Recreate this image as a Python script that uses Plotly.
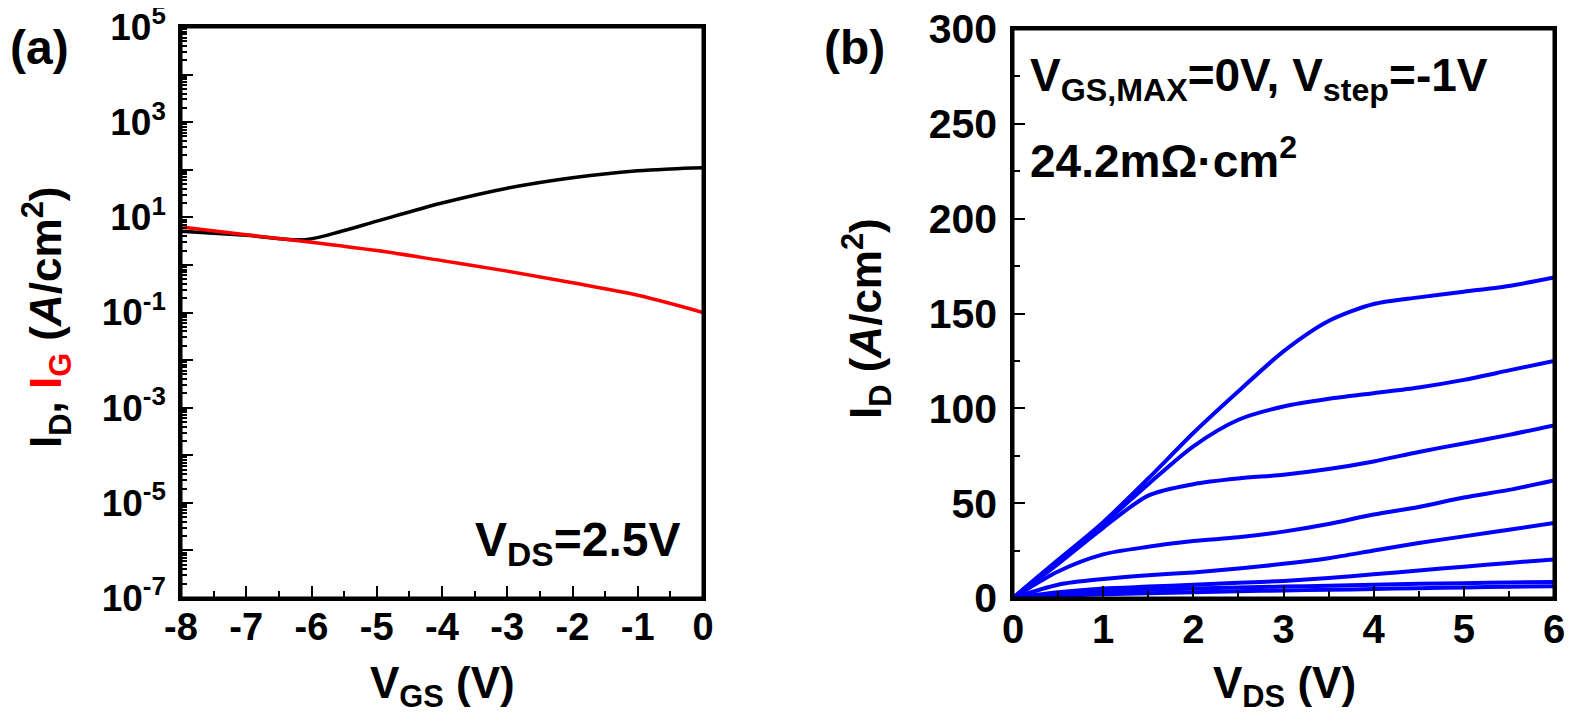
import plotly.graph_objects as go
from plotly.subplots import make_subplots

# panel (a): transfer curve at VDS = 2.5 V
vgs = [-8, -7, -6.1, -5.5, -5, -4, -3, -2, -1, -0.5, 0]
id_a = [5.1, 4.2, 3.4, 5.3, 8.3, 20, 41, 68, 95, 104, 110]
vgs_g = [-8, -7, -6, -5, -4, -3, -2, -1, 0]
ig_a = [6.3, 4.3, 3.0, 2.0, 1.23, 0.74, 0.42, 0.23, 0.10]
vgs_ticks = [-8, -7, -6, -5, -4, -3, -2, -1, 0]

# panel (b): output curves, VGS from 0 V down in -1 V steps
vds = [0, 0.5, 1, 1.5, 2, 2.5, 3, 3.5, 4, 4.5, 5, 5.5, 6]
id_b = {
    "0V": [0, 20, 40, 63, 87, 109, 130, 146, 155, 158.5, 161.5, 164.5, 169],
    "-1V": [0, 20, 39, 60, 80, 94, 101, 105, 108, 111, 115, 120, 125],
    "-2V": [0, 18, 37, 54, 60, 63, 65, 68, 72, 77, 81.5, 86, 91],
    "-3V": [0, 14, 23, 27, 30, 32, 35, 39, 44, 48, 53, 57, 62],
    "-4V": [0, 7, 10, 12, 13.5, 15.5, 18, 21, 25, 29, 32.5, 36, 39.5],
    "-5V": [0, 3, 5, 6, 7, 8, 9, 10.5, 12.5, 14.5, 16.5, 18.5, 20.3],
    "-6V": [0, 2, 3.5, 4.3, 5, 5.5, 6, 6.5, 7, 7.5, 7.8, 8.2, 8.5],
    "-7V": [0, 1, 2, 2.5, 3, 3.5, 4, 4.3, 4.8, 5.2, 5.6, 5.9, 6.2],
}

decades = list(range(-7, 6))
log_ticks = [10.0 ** k for k in decades]
log_text = [f"10<sup>{k}</sup>" if k % 2 else "" for k in decades]
log_minor = [m * 10.0 ** k for k in decades[:-1] for m in range(2, 10)]

# the html body keeps its 8px margin, so every position below is given in page
# pixels and shifted back by that margin
PAD = 8
W, H = 1573, 724
FONT = "Liberation Sans, Arial, sans-serif"


def px(x):
    return (x - PAD) / W


def py(y):
    return 1 - (y - PAD) / H


# plot boxes in page pixels: left, right, top, bottom
box_a = (181, 703, 27, 598)
box_b = (1013, 1554, 29, 598)

fig = make_subplots(rows=1, cols=2)

fig.add_trace(go.Scatter(x=vgs, y=id_a, mode="lines", line=dict(color="black", width=3.5, shape="spline"),
                         showlegend=False), row=1, col=1)
fig.add_trace(go.Scatter(x=vgs_g, y=ig_a, mode="lines", line=dict(color="#ff0000", width=3.5, shape="spline"),
                         showlegend=False), row=1, col=1)

for name, vals in id_b.items():
    fig.add_trace(go.Scatter(x=vds, y=vals, mode="lines", name=name,
                             line=dict(color="#0000ff", width=4, shape="spline", smoothing=0.8),
                             showlegend=False), row=1, col=2)


def axis_style(size):
    return dict(showline=True, linecolor="black", linewidth=2.5, mirror=True, ticks="inside",
                tickcolor="black", tickwidth=2, showgrid=False, zeroline=False, automargin=False,
                ticklabeloverflow="allow",
                tickfont=dict(family=FONT, size=size, color="black", weight="bold"))


fig.update_xaxes(domain=[px(box_a[0]), px(box_a[1])], range=[-8, 0], tickmode="array", tickvals=vgs_ticks,
                 ticktext=[str(v) for v in vgs_ticks], ticklen=12, ticklabelstandoff=-6,
                 minor=dict(ticks="inside", dtick=0.5, ticklen=7, tickwidth=2, tickcolor="black"),
                 row=1, col=1, **axis_style(38))
fig.update_yaxes(domain=[py(box_a[3]), py(box_a[2])], type="log", range=[-7, 5], tickmode="array",
                 tickvals=log_ticks, ticktext=log_text, ticklen=12, ticklabelstandoff=5,
                 minor=dict(ticks="inside", tickmode="array", tickvals=log_minor, ticklen=6, tickwidth=1.5,
                            tickcolor="black"),
                 row=1, col=1, **axis_style(37))
fig.update_xaxes(domain=[px(box_b[0]), px(box_b[1])], range=[0, 6], dtick=1, ticklen=12, ticklabelstandoff=-6,
                 minor=dict(ticks="inside", dtick=0.5, ticklen=7, tickwidth=2, tickcolor="black"),
                 row=1, col=2, **axis_style(40))
fig.update_yaxes(domain=[py(box_b[3]), py(box_b[2])], range=[0, 300], dtick=50, ticklen=12, ticklabelstandoff=5,
                 minor=dict(ticks="inside", dtick=25, ticklen=7, tickwidth=2, tickcolor="black"),
                 row=1, col=2, **axis_style(41))

# closed frame round each panel, in paper coordinates so it is never clipped
for left, right, top, bottom in (box_a, box_b):
    fig.add_shape(type="rect", xref="paper", yref="paper",
                  x0=px(left), x1=px(right), y0=py(bottom), y1=py(top),
                  line=dict(color="black", width=3), layer="above")


def label(text, x, y, size, xanchor="center", yanchor="middle", angle=0):
    fig.add_annotation(text=text, x=px(x), y=py(y), xref="paper", yref="paper",
                       xanchor=xanchor, yanchor=yanchor, textangle=angle, showarrow=False,
                       font=dict(family=FONT, size=size, color="black", weight="bold"))


label("(a)", 8, 48, 48, xanchor="left")
label("(b)", 822, 48, 48, xanchor="left")
label("I<sub>D</sub>, <span style='color:#ff0000'>I<sub>G</sub></span> (<i>A</i>/cm<sup>2</sup>)",
      46, 318, 44, angle=-90)
label("I<sub>D</sub> (<i>A</i>/cm<sup>2</sup>)", 866, 318, 44, angle=-90)
label("V<sub>GS</sub> (V)", 442, 686, 44)
label("V<sub>DS</sub> (V)", 1284, 686, 44)
label("V<sub>DS</sub>=2.5V", 682, 543, 48, xanchor="right")
label("V<sub>GS,MAX</sub>=0V, V<sub>step</sub>=-1V", 1028, 78, 46, xanchor="left")
label("24.2mΩ·cm<sup>2</sup>", 1028, 158, 46, xanchor="left")

fig.update_layout(width=W, height=H, margin=dict(l=0, r=0, t=0, b=0),
                  paper_bgcolor="white", plot_bgcolor="white",
                  font=dict(family=FONT, color="black"))

fig.write_html("out.html")
